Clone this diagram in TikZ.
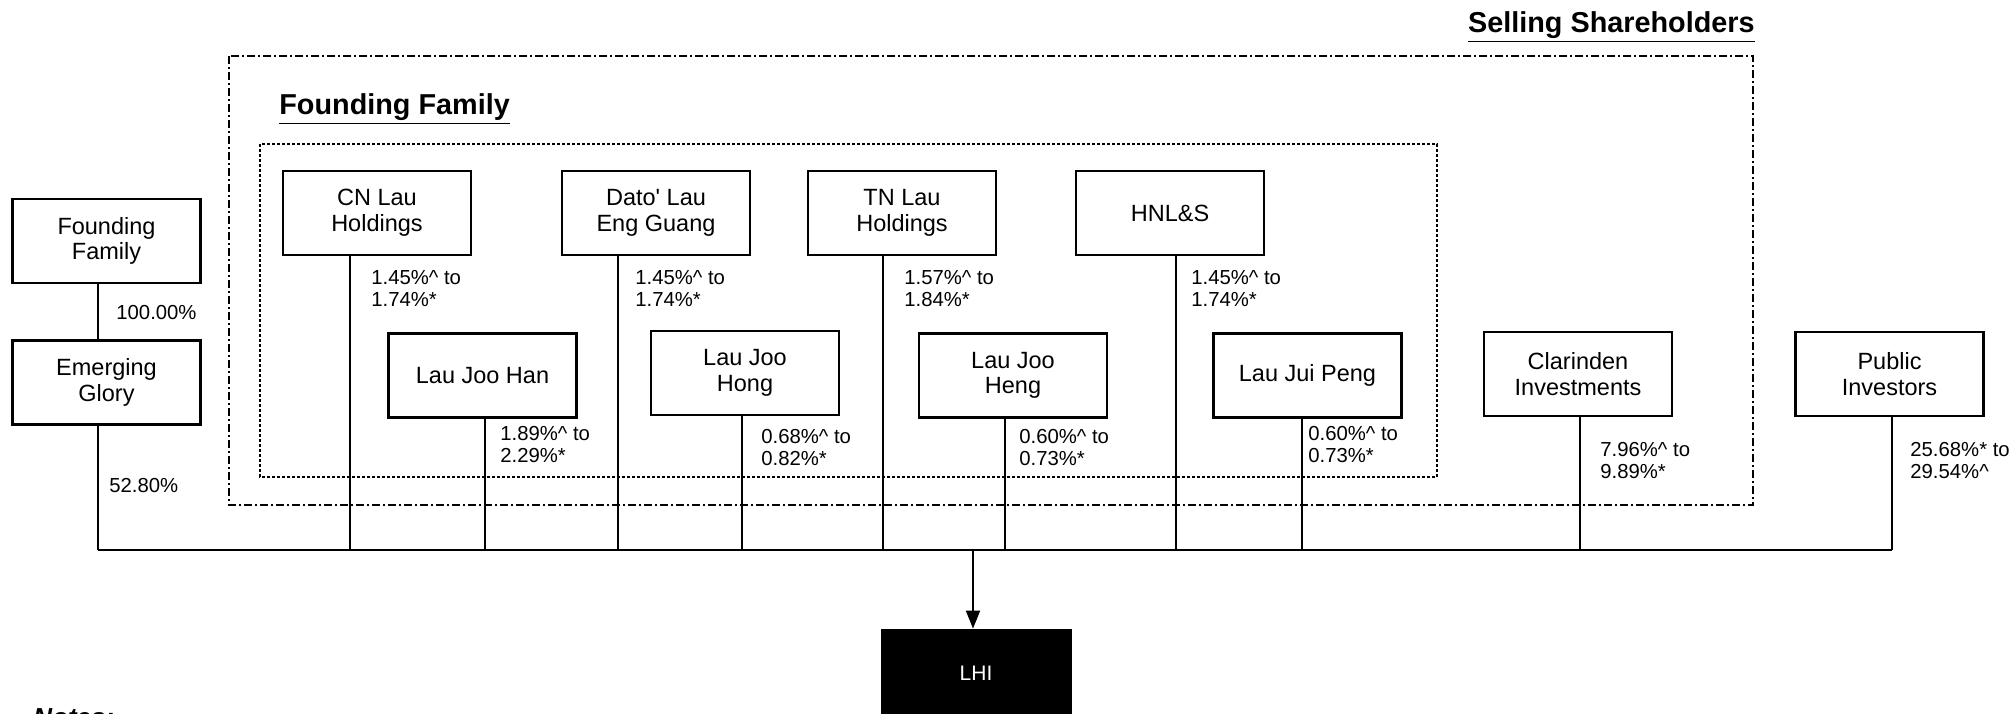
\documentclass[tikz,border=0pt]{standalone}
\usepackage{fontspec}
\setmainfont{Liberation Sans}
\usetikzlibrary{arrows.meta}
\begin{document}
\begin{tikzpicture}[x=0.5pt,y=-0.5pt,
  box/.style={draw, line width=1.2pt, minimum width=94pt, minimum height=42pt, inner sep=0pt, align=center, font=\fontsize{11.75}{12.8}\selectfont},
  pct/.style={anchor=west, align=left, inner sep=0pt, font=\fontsize{10.15}{11}\selectfont},
  ttl/.style={inner sep=0pt, font=\bfseries\fontsize{14.4}{16}\selectfont},
  conn/.style={line width=0.9pt},
  outerbox/.style={draw, line width=0.6pt, dash pattern=on 4pt off 1.5pt on 1pt off 1.5pt},
  innerbox/.style={draw, line width=0.6pt, dash pattern=on 1.5pt off 1pt},
  lhibox/.style={fill=black, draw=black, minimum width=95pt, minimum height=44pt, inner sep=0pt, text=white, font=\fontsize{10.5}{12}\selectfont}
]
\useasboundingbox (0,0) rectangle (2015,713);

% group frames
\draw[outerbox] (229,56) rectangle (1753,505);
\draw[innerbox] (260,144) rectangle (1437,477);
\node[ttl, anchor=east] (tSell) at (1755,27) {\underline{Selling Shareholders}};
\node[ttl, anchor=west] (tFF) at (279,109) {\underline{Founding Family}};

% boxes
\node[box] (FF) at (106.5,241) {Founding\\Family};
\node[box] (EG) at (106.5,382.5) {Emerging\\Glory};
\node[box] (CN) at (377,213) {CN Lau\\Holdings};
\node[box] (DL) at (656,213) {Dato\textquotesingle{} Lau\\Eng Guang};
\node[box] (TN) at (902,213) {TN Lau\\Holdings};
\node[box] (HN) at (1170,213) {HNL\&S};
\node[box] (HAN) at (482.5,375.5) {Lau Joo Han};
\node[box] (HONG) at (745,373) {Lau Joo\\Hong};
\node[box] (HENG) at (1013,375.5) {Lau Joo\\Heng};
\node[box] (PENG) at (1307.5,375.5) {Lau Jui Peng};
\node[box] (CL) at (1578,374) {Clarinden\\Investments};
\node[box] (PUB) at (1889.5,374) {Public\\Investors};
\node[lhibox] (LHI) at (976,673) {LHI};

% bus coordinates
\coordinate (bEG) at (98,550);
\coordinate (bCN) at (350,550);
\coordinate (bHAN) at (485,550);
\coordinate (bDL) at (618,550);
\coordinate (bHONG) at (742,550);
\coordinate (bTN) at (883,550);
\coordinate (bL) at (973,550);
\coordinate (bHENG) at (1005,550);
\coordinate (bHN) at (1176,550);
\coordinate (bPENG) at (1302,550);
\coordinate (bCL) at (1580,550);
\coordinate (bPUB) at (1892,550);

% connectors
\draw[conn] (FF.south -| bEG) -- (EG.north -| bEG);
\draw[conn] (EG.south -| bEG) -- (bEG);
\draw[conn] (CN.south -| bCN) -- (bCN);
\draw[conn] (HAN.south -| bHAN) -- (bHAN);
\draw[conn] (DL.south -| bDL) -- (bDL);
\draw[conn] (HONG.south -| bHONG) -- (bHONG);
\draw[conn] (TN.south -| bTN) -- (bTN);
\draw[conn] (HENG.south -| bHENG) -- (bHENG);
\draw[conn] (HN.south -| bHN) -- (bHN);
\draw[conn] (PENG.south -| bPENG) -- (bPENG);
\draw[conn] (CL.south -| bCL) -- (bCL);
\draw[conn] (PUB.south -| bPUB) -- (bPUB);
\draw[conn] (bEG) -- (bPUB);
\draw[conn, -{Triangle[length=9pt,width=7pt]}] (bL) -- (bL |- LHI.north);

% percentage labels
\node[pct] (p1) at (116,313) {100.00\%};
\node[pct] (p2) at (109,486) {52.80\%};
\node[pct] (p3) at (371,289) {1.45\%\textasciicircum{} to\\1.74\%*};
\node[pct] (p4) at (635,289) {1.45\%\textasciicircum{} to\\1.74\%*};
\node[pct] (p5) at (904,289) {1.57\%\textasciicircum{} to\\1.84\%*};
\node[pct] (p6) at (1191,289) {1.45\%\textasciicircum{} to\\1.74\%*};
\node[pct] (p7) at (500,445) {1.89\%\textasciicircum{} to\\2.29\%*};
\node[pct] (p8) at (761,448) {0.68\%\textasciicircum{} to\\0.82\%*};
\node[pct] (p9) at (1019,448) {0.60\%\textasciicircum{} to\\0.73\%*};
\node[pct] (p10) at (1308,445) {0.60\%\textasciicircum{} to\\0.73\%*};
\node[pct] (p11) at (1600,461) {7.96\%\textasciicircum{} to\\9.89\%*};
\node[pct] (p12) at (1910,461) {25.68\%* to\\29.54\%\textasciicircum};

% notes (cut by the lower edge, as in the reference)
\node[anchor=north west, inner sep=0pt, font=\bfseries\itshape\fontsize{13}{15}\selectfont] (notes) at (33,708) {Notes:};
\end{tikzpicture}
\end{document}
